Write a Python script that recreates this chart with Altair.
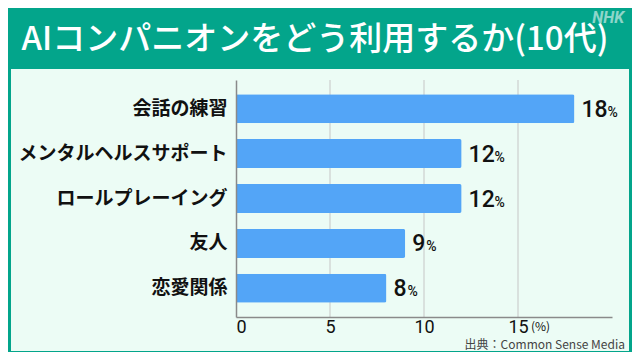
import altair as alt
import pandas as pd

categories = ["会話の練習", "メンタルヘルスサポート", "ロールプレーイング", "友人", "恋愛関係"]
values = [18, 12, 12, 9, 8]
x_ticks = [0, 5, 10, 15]
grid_ticks = [5, 10, 15]
unit_at = [15]
title_text = "AIコンパニオンをどう利用するか(10代)"
source_text = "出典：Common Sense Media"
logo_text = "NHK"

df = pd.DataFrame({"cat": categories, "value": values})

W, H = 376, 237
PADL, PADT = 228, 72
TOTW, TOTH = 624, 344
GREEN = "#03a58b"
PANEL = "#ecfcf5"
BAR = "#53a5f7"
JP = "Noto Sans CJK JP"

x_scale = alt.Scale(domain=[0, 20], nice=False)
y_scale = alt.Scale(paddingInner=0.354, paddingOuter=0.317)
one = alt.Data(values=[{"k": 1}])

x_axis = alt.Axis(title=None, values=x_ticks, grid=False, ticks=False,
                  domainColor="#8a8a8a", domainWidth=1.5, labelFont="Roboto",
                  labelFontSize=18, labelColor="#111", labelPadding=1, zindex=1)
y_axis = alt.Axis(title=None, ticks=False, labelFont=JP, labelFontWeight="bold",
                  labelFontSize=19, labelColor="#111", labelPadding=9,
                  domainColor="#8a8a8a", domainWidth=1.5, labelLimit=300, zindex=1)

panel = alt.Chart(one).mark_rect(color=PANEL).encode(
    x=alt.value(-225), x2=alt.value(393), y=alt.value(-11), y2=alt.value(271)
)

grid = alt.Chart(pd.DataFrame({"g": grid_ticks})).mark_rule(color="#c6c6c6", strokeWidth=1).encode(
    x=alt.X("g:Q", scale=x_scale, axis=x_axis), y=alt.value(0), y2=alt.value(H)
)

x_enc = alt.X("value:Q", scale=x_scale, axis=x_axis)
y_enc = alt.Y("cat:N", sort=categories, scale=y_scale, axis=y_axis)

bars = alt.Chart(df).mark_bar(color=BAR, cornerRadiusEnd=2).encode(y=y_enc, x=x_enc)

num = alt.Chart(df).mark_text(align="left", baseline="alphabetic", dx=7, dy=8, fontSize=23,
                              font="Roboto", fontWeight=500, color="#111").encode(
    y=y_enc, x=x_enc, text="value:Q"
)

pct2 = alt.Chart(df).transform_filter("datum.value >= 10").mark_text(
    align="left", baseline="alphabetic", dx=33, dy=8, fontSize=14, font="Roboto",
    fontWeight=500, color="#111").encode(y=y_enc, x=x_enc, text=alt.value("%"))
pct1 = alt.Chart(df).transform_filter("datum.value < 10").mark_text(
    align="left", baseline="alphabetic", dx=21, dy=8, fontSize=14, font="Roboto",
    fontWeight=500, color="#111").encode(y=y_enc, x=x_enc, text=alt.value("%"))

unit = alt.Chart(pd.DataFrame({"u": unit_at})).mark_text(
    align="left", baseline="alphabetic", dx=13, fontSize=12, font=JP, color="#111").encode(
    x=alt.X("u:Q", scale=x_scale, axis=x_axis), y=alt.value(251), text=alt.value("(%)")
)

title = alt.Chart(one).mark_text(align="center", baseline="middle", fontSize=33, font=JP,
                                 fontWeight=500, color="white").encode(
    x=alt.value(79), y=alt.value(-40), text=alt.value(title_text)
)

logo = alt.Chart(one).mark_text(align="right", baseline="middle", fontSize=16, font="Roboto",
                                fontWeight="bold", fontStyle="italic", color="white",
                                opacity=0.55).encode(
    x=alt.value(388), y=alt.value(-62), text=alt.value(logo_text)
)

source = alt.Chart(one).mark_text(align="right", baseline="alphabetic", fontSize=12, font=JP,
                                  color="#444").encode(
    x=alt.value(389), y=alt.value(269), text=alt.value(source_text)
)

chart = alt.layer(panel, grid, bars, num, pct2, pct1, unit, title, logo, source).properties(
    width=W, height=H,
    padding={"left": PADL, "top": PADT, "right": TOTW - PADL - W, "bottom": TOTH - PADT - H},
    autosize=alt.AutoSizeParams(type="none"),
    background=GREEN,
).configure_view(stroke=None)

chart.save("out.html", embed_options={"renderer": "svg", "actions": False})
